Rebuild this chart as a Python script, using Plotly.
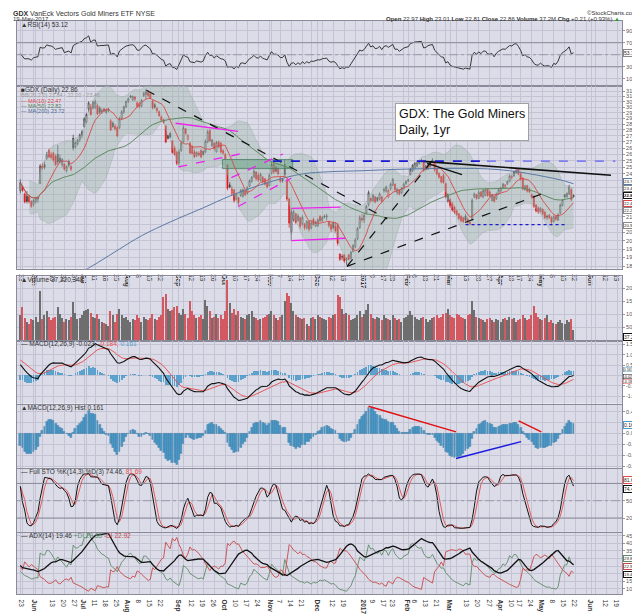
import numpy as np
import pandas as pd
import plotly.graph_objects as go
from plotly.subplots import make_subplots

# trading calendar (May 20 2016 .. Jun 23 2017)
holidays = ["2016-05-30", "2016-07-04", "2016-09-05", "2016-11-24", "2016-12-26",
            "2017-01-02", "2017-01-16", "2017-02-20", "2017-04-14", "2017-05-29"]
days = pd.bdate_range("2016-05-20", "2017-06-23")
days = days[~days.isin(pd.to_datetime(holidays))]

# GDX daily OHLC, idx 0 = 2016-05-20 ... idx 251 = 2017-05-19
opens = [23.30, 23.60, 23.05, 22.90, 22.85, 22.55, 22.35, 22.50, 22.70, 23.80,
         25.10, 25.20, 25.70, 26.30, 26.00, 26.10, 25.85, 26.00, 25.70, 25.20,
         25.25, 24.75, 25.45, 25.05, 27.30, 26.60, 26.85, 27.20, 27.55, 28.30,
         28.70, 29.85, 30.00, 29.95, 30.00, 30.15, 29.95, 29.60, 29.85, 29.55,
         29.70, 28.80, 28.60, 28.30, 28.20, 28.20, 29.00, 29.60, 30.05, 30.55,
         31.05, 30.70, 30.95, 30.40, 30.35, 30.10, 31.10, 31.20, 31.35, 31.25,
         30.60, 30.25, 29.90, 29.60, 29.15, 28.90, 28.35, 27.55, 27.70, 27.10,
         26.50, 26.15, 25.35, 26.30, 27.00, 28.10, 27.20, 26.90, 26.65, 26.20,
         25.90, 26.10, 26.30, 26.25, 26.20, 27.00, 27.95, 26.70, 26.90, 26.20,
         27.00, 26.90, 26.30, 26.00, 25.20, 23.70, 23.10, 23.35, 22.70, 22.80,
         22.95, 22.90, 23.25, 23.10, 23.60, 23.95, 24.30, 24.65, 24.40, 24.05,
         24.25, 24.15, 23.85, 23.65, 24.55, 25.25, 25.00, 24.90, 24.20, 24.10,
         25.20, 24.05, 22.70, 20.55, 21.30, 21.70, 21.25, 21.45, 21.05, 21.05,
         20.80, 21.20, 20.80, 21.35, 20.90, 20.95, 21.55, 21.25, 21.55, 21.50,
         21.20, 21.00, 21.10, 20.90, 21.00, 19.20, 19.05, 19.15, 18.85, 19.15,
         18.95, 19.35, 19.65, 20.10, 20.80, 21.40, 21.30, 21.75, 22.30, 22.75,
         22.60, 22.85, 22.80, 22.70, 22.85, 23.30, 23.25, 22.85, 23.40, 23.70,
         23.75, 23.15, 23.30, 23.15, 23.45, 23.80, 24.00, 24.45, 24.75, 24.95,
         25.10, 25.30, 25.55, 25.40, 25.10, 24.85, 25.05, 25.55, 25.40, 24.90,
         24.55, 24.30, 24.40, 23.80, 22.55, 22.65, 22.40, 22.15, 21.90, 21.70,
         21.55, 21.45, 21.55, 21.35, 21.15, 21.30, 22.85, 23.00, 22.75, 23.20,
         22.85, 22.95, 23.40, 23.20, 22.60, 22.90, 22.70, 23.05, 23.25, 23.45,
         23.50, 23.75, 23.95, 24.25, 24.35, 24.60, 24.85, 24.50, 24.20, 23.35,
         23.65, 23.40, 23.00, 22.90, 22.30, 22.10, 21.85, 22.00, 21.80, 21.55,
         21.60, 21.45, 21.20, 21.55, 21.30, 21.75, 22.25, 23.00, 22.85, 23.05,
         23.35, 22.97]
highs = [24.10, 23.65, 23.15, 23.25, 22.95, 22.60, 22.70, 22.85, 22.90, 25.25,
         25.30, 25.45, 26.20, 26.45, 26.20, 26.20, 26.00, 26.75, 26.00, 25.70,
         25.30, 25.15, 25.60, 25.20, 27.60, 27.05, 27.25, 27.70, 28.00, 29.10,
         29.50, 30.55, 30.30, 30.60, 30.70, 30.35, 30.10, 29.90, 29.95, 29.90,
         29.95, 28.95, 28.75, 28.50, 28.35, 29.15, 29.75, 30.15, 30.60, 30.90,
         31.15, 31.10, 31.05, 30.55, 30.50, 30.75, 31.45, 31.75, 31.60, 31.30,
         30.70, 30.40, 30.05, 29.70, 29.25, 28.95, 28.45, 27.60, 27.85, 27.15,
         26.70, 26.30, 26.40, 27.10, 28.40, 28.15, 27.65, 27.00, 26.70, 26.40,
         26.25, 26.25, 26.45, 26.30, 27.20, 28.00, 28.05, 27.25, 27.00, 27.10,
         27.10, 27.00, 26.40, 26.10, 25.25, 23.90, 23.60, 23.40, 23.15, 22.85,
         23.40, 23.45, 23.35, 23.60, 24.10, 24.35, 24.85, 24.70, 24.60, 24.60,
         24.35, 24.20, 23.95, 24.55, 25.40, 25.45, 25.15, 25.05, 24.30, 24.20,
         25.55, 24.15, 22.80, 21.95, 21.95, 21.75, 21.70, 21.50, 21.60, 21.10,
         21.30, 21.25, 21.25, 21.45, 21.25, 21.40, 21.60, 21.55, 21.65, 21.70,
         21.25, 21.10, 21.20, 21.15, 21.15, 19.25, 19.20, 19.20, 19.00, 19.20,
         19.40, 19.80, 20.15, 20.85, 21.60, 21.70, 21.75, 22.30, 23.30, 22.80,
         23.05, 22.90, 22.85, 23.15, 22.90, 23.50, 23.65, 23.40, 23.85, 24.20,
         23.80, 23.45, 23.40, 23.55, 23.85, 24.00, 24.15, 24.95, 25.25, 25.40,
         25.45, 25.50, 25.65, 25.50, 25.20, 25.30, 25.45, 25.70, 25.45, 25.00,
         24.60, 24.35, 24.55, 23.85, 23.10, 22.75, 22.50, 22.25, 22.00, 21.75,
         21.60, 21.50, 21.70, 21.45, 21.25, 22.75, 23.15, 23.05, 23.30, 23.25,
         23.40, 23.45, 23.45, 23.30, 23.05, 22.95, 23.15, 23.40, 23.55, 23.85,
         23.75, 24.00, 24.45, 24.45, 24.75, 24.85, 24.95, 24.60, 24.25, 23.70,
         23.70, 23.50, 23.10, 22.95, 22.35, 22.20, 22.15, 22.05, 21.90, 21.65,
         21.70, 21.55, 21.60, 21.60, 21.75, 22.40, 22.70, 23.05, 23.15, 23.70,
         23.45, 23.01]
lows = [23.10, 23.20, 22.40, 22.40, 22.40, 22.10, 22.20, 22.40, 22.45, 23.75,
        24.80, 24.85, 25.55, 25.70, 25.60, 25.40, 25.10, 25.20, 25.30, 25.00,
        24.75, 24.60, 25.00, 24.70, 26.30, 26.45, 26.70, 27.00, 27.30, 28.20,
        28.55, 29.60, 29.25, 29.80, 29.85, 29.30, 29.40, 29.40, 29.55, 29.40,
        29.55, 27.90, 28.15, 27.95, 27.40, 28.10, 28.85, 29.40, 29.95, 30.40,
        30.85, 30.55, 30.55, 29.95, 29.90, 30.00, 30.95, 30.80, 30.95, 30.80,
        29.80, 29.85, 29.50, 29.15, 28.75, 28.55, 26.90, 27.20, 27.30, 26.05,
        25.90, 25.15, 25.15, 26.20, 26.95, 27.60, 27.10, 26.00, 26.00, 25.70,
        25.80, 25.85, 25.70, 25.90, 26.10, 26.90, 27.00, 26.60, 26.30, 26.15,
        26.50, 26.05, 25.95, 25.55, 23.30, 23.45, 22.95, 22.45, 22.60, 22.30,
        22.85, 22.80, 22.90, 23.00, 23.55, 23.85, 24.20, 24.00, 23.90, 23.95,
        23.80, 23.65, 23.45, 23.60, 24.45, 24.50, 24.60, 24.40, 23.85, 23.85,
        24.30, 22.55, 20.80, 20.40, 21.20, 21.05, 21.20, 20.75, 20.95, 20.65,
        20.70, 20.55, 20.70, 20.95, 20.85, 20.85, 21.15, 21.20, 21.40, 21.30,
        20.80, 20.55, 20.70, 20.50, 19.70, 18.80, 18.85, 18.70, 18.58, 18.85,
        18.90, 19.30, 19.55, 20.05, 20.75, 21.15, 21.10, 21.65, 22.20, 22.45,
        22.50, 22.40, 22.50, 22.60, 22.45, 23.15, 23.15, 22.75, 23.30, 23.60,
        23.20, 23.00, 22.95, 23.05, 23.35, 23.70, 23.90, 24.40, 24.65, 24.85,
        25.00, 25.20, 25.35, 24.65, 24.75, 24.80, 25.00, 25.35, 24.65, 24.40,
        24.15, 23.80, 23.80, 22.75, 22.45, 22.10, 21.85, 21.70, 21.55, 21.30,
        21.15, 21.10, 21.20, 21.05, 20.95, 21.25, 22.75, 22.65, 22.70, 22.80,
        22.75, 22.90, 22.85, 22.80, 22.55, 22.45, 22.65, 23.00, 23.15, 23.40,
        23.45, 23.70, 23.90, 24.10, 24.30, 24.50, 24.40, 24.00, 23.30, 23.30,
        23.15, 23.10, 22.70, 22.10, 21.80, 21.70, 21.80, 21.60, 21.35, 21.30,
        21.35, 20.95, 21.15, 21.25, 21.25, 21.70, 22.20, 22.75, 22.80, 23.00,
        22.55, 22.81]
closes = [23.85, 23.30, 22.50, 22.55, 22.50, 22.20, 22.60, 22.75, 22.80, 25.10,
          24.95, 25.00, 25.95, 25.80, 25.75, 25.55, 25.20, 25.40, 25.45, 25.60,
          24.85, 25.05, 25.15, 24.85, 26.50, 26.95, 27.15, 27.60, 27.85, 28.95,
          29.35, 30.40, 29.35, 30.45, 30.50, 29.40, 29.55, 29.70, 29.65, 29.75,
          29.80, 28.00, 28.30, 28.10, 27.50, 28.95, 29.60, 30.05, 30.55, 30.80,
          30.95, 31.00, 30.75, 30.10, 30.05, 30.65, 31.30, 31.45, 31.10, 30.85,
          29.95, 30.00, 29.70, 29.25, 28.85, 28.65, 27.00, 27.30, 27.40, 26.15,
          26.00, 25.30, 26.20, 26.90, 28.20, 27.70, 27.55, 26.10, 26.05, 25.80,
          26.15, 25.95, 25.80, 26.00, 27.05, 27.85, 27.10, 27.15, 26.45, 26.95,
          26.60, 26.20, 26.10, 25.65, 23.45, 23.55, 23.40, 22.60, 23.05, 22.45,
          23.30, 23.35, 23.00, 23.50, 24.00, 24.25, 24.70, 24.15, 24.05, 24.45,
          23.90, 23.75, 23.55, 24.40, 25.20, 24.65, 24.70, 24.50, 23.95, 24.00,
          24.45, 22.70, 21.10, 21.80, 21.85, 21.15, 21.55, 20.90, 21.45, 20.80,
          21.20, 20.70, 21.10, 21.00, 21.15, 21.30, 21.25, 21.45, 21.50, 21.55,
          20.95, 20.70, 20.80, 20.60, 19.85, 18.90, 19.05, 18.80, 18.95, 18.90,
          19.30, 19.70, 20.05, 20.75, 21.45, 21.30, 21.60, 22.20, 23.15, 22.60,
          22.95, 22.50, 22.60, 23.05, 22.55, 23.35, 23.55, 23.30, 23.75, 24.10,
          23.35, 23.40, 23.05, 23.45, 23.75, 23.95, 24.05, 24.85, 25.15, 25.30,
          25.35, 25.40, 25.45, 24.75, 24.85, 25.20, 25.40, 25.45, 24.80, 24.50,
          24.25, 23.90, 23.85, 22.85, 23.00, 22.25, 21.95, 21.80, 21.65, 21.40,
          21.25, 21.20, 21.30, 21.15, 21.05, 22.60, 23.05, 22.75, 23.15, 22.90,
          23.30, 23.35, 22.95, 22.90, 23.00, 22.55, 23.05, 23.35, 23.50, 23.75,
          23.70, 23.95, 24.35, 24.30, 24.65, 24.75, 24.50, 24.10, 23.40, 23.60,
          23.25, 23.20, 22.85, 22.20, 21.90, 21.85, 22.05, 21.70, 21.45, 21.50,
          21.45, 21.15, 21.50, 21.35, 21.65, 22.30, 22.65, 22.85, 23.10, 23.55,
          22.65, 22.86]
volume_m = [95, 125, 85, 70, 60, 80, 75, 90, 70, 187,
            80, 95, 110, 90, 75, 85, 90, 128, 100, 85,
            70, 80, 75, 90, 147, 105, 80, 85, 95, 110,
            115, 120, 105, 90, 85, 100, 80, 70, 65, 60,
            55, 110, 95, 70, 100, 120, 95, 85, 90, 75,
            70, 80, 75, 95, 85, 70, 90, 80, 75, 85,
            100, 80, 75, 90, 95, 165, 175, 120, 110, 115,
            125, 130, 105, 95, 120, 100, 85, 148, 110, 95,
            85, 90, 95, 80, 153, 130, 110, 85, 90, 100,
            85, 95, 80, 110, 229, 140, 105, 120, 95, 110,
            90, 85, 80, 95, 100, 110, 90, 85, 75, 80,
            85, 90, 95, 100, 110, 95, 85, 75, 90, 95,
            150, 180, 168, 140, 110, 95, 90, 85, 80, 85,
            60, 55, 85, 90, 80, 95, 90, 85, 80, 75,
            90, 85, 95, 100, 172, 165, 120, 100, 105, 95,
            75, 80, 85, 95, 110, 90, 100, 115, 139, 100,
            85, 80, 90, 85, 75, 95, 85, 80, 75, 95,
            85, 75, 80, 70, 85, 90, 95, 110, 95, 90,
            80, 75, 85, 90, 80, 70, 75, 85, 90, 95,
            85, 90, 100, 105, 120, 95, 90, 85, 100, 95,
            90, 85, 80, 95, 100, 151, 115, 90, 85, 80,
            75, 70, 80, 85, 75, 70, 80, 75, 70, 80,
            85, 75, 90, 80, 85, 70, 75, 80, 95, 85,
            75, 80, 95, 129, 105, 90, 80, 75, 85, 95,
            70, 75, 65, 60, 70, 75, 65, 60, 77, 70,
            80, 37.22]

# 200-day MA (sparse points)
ma200_idx = [26, 35, 45, 55, 68, 83, 95, 113, 128, 140, 155, 170, 185, 200, 212, 222, 230, 238, 245, 251]
ma200_val = [18.05, 18.7, 19.5, 20.3, 21.17, 22.1, 22.9, 23.9, 24.5, 24.66, 24.74, 24.84, 24.9, 24.92,
             24.88, 24.74, 24.54, 24.3, 24.06, 23.78]

rsi_seed = (0.30, 0.28)             # avg gain, avg loss
macd_seed = (24.25, 23.65, 0.80)    # ema12, ema26, signal
adx_seed = (0.80, 0.19, 0.21, 27.0)  # atr, +dm, -dm, adx

# x-axis labels
tick_dates = ["2016-05-23", "2016-06-01", "2016-06-13", "2016-06-20", "2016-06-27", "2016-07-01",
              "2016-07-11", "2016-07-18", "2016-07-25", "2016-08-01", "2016-08-08", "2016-08-15",
              "2016-08-22", "2016-09-01", "2016-09-12", "2016-09-19", "2016-09-26", "2016-10-03",
              "2016-10-10", "2016-10-17", "2016-10-24", "2016-11-01", "2016-11-07", "2016-11-14",
              "2016-11-21", "2016-12-01", "2016-12-12", "2016-12-19", "2017-01-03", "2017-01-09",
              "2017-01-17", "2017-01-23", "2017-02-01", "2017-02-06", "2017-02-13", "2017-02-21",
              "2017-03-01", "2017-03-13", "2017-03-20", "2017-03-27", "2017-04-03", "2017-04-10",
              "2017-04-17", "2017-04-24", "2017-05-01", "2017-05-08", "2017-05-15", "2017-05-22",
              "2017-06-01", "2017-06-12", "2017-06-19"]
tick_text = ["23", "Jun", "13", "20", "27", "Jul", "11", "18", "25", "Aug", "8", "15",
             "22", "Sep", "12", "19", "26", "Oct", "10", "17", "24", "Nov", "7", "14",
             "21", "Dec", "12", "19", "2017", "9", "17", "23", "Feb", "6", "13", "21",
             "Mar", "13", "20", "27", "Apr", "10", "17", "24", "May", "8", "15", "22",
             "Jun", "12", "19"]

# hand-drawn trend lines on the price panel: (x0, y0, x1, y1, color, dash, width)
price_lines = [
    (57.2, 31.6, 166.5, 21.37, "#111111", "dash", 1.2),
    (148.2, 18.5, 187.3, 25.6, "#111111", "dash", 1.2),
    (148.2, 18.5, 238.8, 23.18, "#111111", "dash", 1.2),
    (182.8, 25.45, 268.0, 24.4, "#111111", "solid", 1.6),
    (184.6, 25.3, 200.4, 24.45, "#111111", "solid", 1.4),
    (114.6, 25.47, 211.7, 25.47, "#1a1ad0", "dash", 1.6),
    (211.7, 25.47, 270.0, 25.47, "#8080ee", "dash", 1.6),
    (202.0, 21.0, 247.0, 21.0, "#1a1ad0", "dot", 1.4),
    (70.45, 28.58, 98.8, 27.88, "#ee22ee", "solid", 1.3),
    (71.7, 25.03, 99.5, 26.03, "#ee22ee", "dash", 1.3),
    (95.75, 24.23, 119.1, 26.03, "#ee22ee", "dash", 1.3),
    (98.8, 22.19, 122.85, 24.18, "#ee22ee", "dash", 1.3),
    (122.9, 22.06, 145.2, 22.15, "#ee22ee", "solid", 1.3),
    (122.9, 20.0, 147.5, 20.15, "#ee22ee", "solid", 1.3),
    (122.9, 20.0, 122.9, 22.06, "#888888", "solid", 1.0),
]
zone_box = (91.7, 123.6, 24.9, 25.6)
hist_lines = [
    (158.0, 0.50, 197.7, 0.03, "#e01010"),
    (226.1, 0.23, 236.4, 0.03, "#e01010"),
    (197.7, -0.46, 227.2, -0.15, "#1a1ae0"),
]

# ---------------- indicators ----------------
c = pd.Series(closes)
h = pd.Series(highs)
l = pd.Series(lows)
n = len(c)
x = np.arange(n)

ma10 = c.rolling(10, min_periods=1).mean()
ma50 = c.rolling(50, min_periods=1).mean()
bb_mid = c.rolling(20, min_periods=5).mean()
bb_sd = c.rolling(20, min_periods=5).std(ddof=0)
bb_up = bb_mid + 2 * bb_sd
bb_lo = bb_mid - 2 * bb_sd

delta = c.diff().fillna(0)
ag, al = rsi_seed
rsi = []
for d in delta:
    ag += (max(d, 0) - ag) / 14
    al += (max(-d, 0) - al) / 14
    rsi.append(100 - 100 / (1 + ag / al))

e12, e26, sig = macd_seed
macd, signal = [], []
for v in c:
    e12 += (v - e12) * 2 / 13
    e26 += (v - e26) * 2 / 27
    m = e12 - e26
    sig += (m - sig) * 2 / 10
    macd.append(m)
    signal.append(sig)
macd = np.array(macd)
signal = np.array(signal)
hist = macd - signal

ll = l.rolling(14, min_periods=1).min()
hh = h.rolling(14, min_periods=1).max()
fast_k = 100 * (c - ll) / (hh - ll)
full_k = fast_k.rolling(3, min_periods=1).mean()
full_d = full_k.rolling(3, min_periods=1).mean()

atr, pdm_s, mdm_s, adx_v = adx_seed
pdi, mdi, adx = [], [], []
for i in range(n):
    if i == 0:
        tr, pdm, mdm = h[0] - l[0], 0.0, 0.0
    else:
        tr = max(h[i] - l[i], abs(h[i] - c[i - 1]), abs(l[i] - c[i - 1]))
        up, dn = h[i] - h[i - 1], l[i - 1] - l[i]
        pdm = up if (up > dn and up > 0) else 0.0
        mdm = dn if (dn > up and dn > 0) else 0.0
    atr += (tr - atr) / 14
    pdm_s += (pdm - pdm_s) / 14
    mdm_s += (mdm - mdm_s) / 14
    p_, m_ = 100 * pdm_s / atr, 100 * mdm_s / atr
    dx = 100 * abs(p_ - m_) / (p_ + m_)
    adx_v += (dx - adx_v) / 14
    pdi.append(p_)
    mdi.append(m_)
    adx.append(adx_v)

up_day = np.r_[True, c.values[1:] >= c.values[:-1]]

# ---------------- figure ----------------
W, H = 640, 614
L, R, T, B = 8, 24, 13, 11
PW, PH = W - L - R, H - T - B
panels_px = [(13, 80), (80, 268), (276, 342), (343, 407), (408, 473), (474, 539), (540, 603)]

fig = make_subplots(rows=7, cols=1, shared_xaxes=True, vertical_spacing=0.0)

BG = "#dcdce8"
GRID = "#c3c3d3"
LINE = "#8a8a9a"
FONT = "Liberation Sans, Arial, sans-serif"

# RSI
fig.add_trace(go.Scatter(x=x, y=rsi, mode="lines", line=dict(color="#222", width=0.9)), row=1, col=1)

# Bollinger band
fig.add_trace(go.Scatter(x=x, y=bb_lo, mode="lines", line=dict(color="rgba(150,165,160,0.6)", width=0.6)),
              row=2, col=1)
fig.add_trace(go.Scatter(x=x, y=bb_up, mode="lines", fill="tonexty", fillcolor="rgba(160,180,172,0.42)",
                         line=dict(color="rgba(150,165,160,0.6)", width=0.6)), row=2, col=1)
# zone box
x0, x1, y0, y1 = zone_box
fig.add_trace(go.Scatter(x=[x0, x1, x1, x0, x0], y=[y0, y0, y1, y1, y0], mode="lines", fill="toself",
                         fillcolor="rgba(95,160,125,0.5)", line=dict(color="rgba(60,120,90,0.7)", width=1)),
              row=2, col=1)
# moving averages
fig.add_trace(go.Scatter(x=ma200_idx, y=ma200_val, mode="lines", line=dict(color="#5a7aa5", width=1),
                         line_shape="spline"), row=2, col=1)
fig.add_trace(go.Scatter(x=x, y=ma50, mode="lines", line=dict(color="#5f8a62", width=1)), row=2, col=1)
fig.add_trace(go.Scatter(x=x, y=ma10, mode="lines", line=dict(color="#d84848", width=0.9)), row=2, col=1)

# candles: black = up vs previous close, red = down
for mask, col in ((up_day, "#3a3a3a"), (~up_day, "#e01818")):
    fig.add_trace(go.Candlestick(
        x=x[mask], open=np.array(opens)[mask], high=h.values[mask], low=l.values[mask],
        close=c.values[mask], whiskerwidth=0,
        increasing=dict(line=dict(color=col, width=0.7), fillcolor="#f4f4f4"),
        decreasing=dict(line=dict(color=col, width=0.7), fillcolor=col)), row=2, col=1)

for x0, y0, x1, y1, colr, dash, wd in price_lines:
    fig.add_trace(go.Scatter(x=[x0, x1], y=[y0, y1], mode="lines",
                             line=dict(color=colr, dash=dash, width=wd)), row=2, col=1)

# volume
fig.add_trace(go.Bar(x=x, y=volume_m, width=0.62,
                     marker=dict(color=np.where(up_day, "#6e6e6e", "#d25862"), line=dict(width=0))),
              row=3, col=1)

# MACD
fig.add_trace(go.Bar(x=x, y=hist, width=0.8, marker=dict(color="rgba(70,150,200,0.85)", line=dict(width=0))),
              row=4, col=1)
fig.add_trace(go.Scatter(x=x, y=signal, mode="lines", line=dict(color="#e84a4a", width=0.9)), row=4, col=1)
fig.add_trace(go.Scatter(x=x, y=macd, mode="lines", line=dict(color="#111", width=1.1)), row=4, col=1)

# MACD histogram
fig.add_trace(go.Bar(x=x, y=hist, width=0.85,
                     marker=dict(color="#4d9ccb", line=dict(color="#2d6f98", width=0.4))), row=5, col=1)
for x0, y0, x1, y1, colr in hist_lines:
    fig.add_trace(go.Scatter(x=[x0, x1], y=[y0, y1], mode="lines", line=dict(color=colr, width=1.4)),
                  row=5, col=1)

# Full STO
fig.add_trace(go.Scatter(x=x, y=full_d, mode="lines", line=dict(color="#e84a4a", width=0.9)), row=6, col=1)
fig.add_trace(go.Scatter(x=x, y=full_k, mode="lines", line=dict(color="#111", width=1)), row=6, col=1)

# ADX
fig.add_trace(go.Scatter(x=x, y=pdi, mode="lines", line=dict(color="#5f8a6a", width=0.9)), row=7, col=1)
fig.add_trace(go.Scatter(x=x, y=mdi, mode="lines", line=dict(color="#c84848", width=0.9)), row=7, col=1)
fig.add_trace(go.Scatter(x=x, y=adx, mode="lines", line=dict(color="#111", width=1.3)), row=7, col=1)

# reference lines
for row, lvl, dash, colr in ((1, 70, "solid", "#8a8a9a"), (1, 30, "solid", "#8a8a9a"), (1, 50, "dashdot", "#9a9aaa"),
                             (6, 80, "solid", "#8a8a9a"), (6, 20, "solid", "#8a8a9a"), (6, 50, "dashdot", "#9a9aaa")):
    fig.add_hline(y=lvl, row=row, col=1, line=dict(color=colr, width=1, dash=dash))

# ---------------- axes ----------------
pos = pd.Series(np.arange(len(days)), index=days)
iso = days.isocalendar()
week_first = days.to_series().groupby([iso.year.values, iso.week.values]).min().values
label_pos = [int(pos[pd.Timestamp(d)]) for d in tick_dates]
grid_vals = sorted(set(int(pos[d]) for d in week_first) | set(label_pos))
lab = dict(zip(label_pos, tick_text))
grid_text = []
for v in grid_vals:
    t = lab.get(v, "")
    grid_text.append("<b>%s</b>" % t if t[:1].isalpha() or t == "2017" else t)

for i, (ptop, pbot) in enumerate(panels_px, start=1):
    sfx = "" if i == 1 else str(i)
    fig.layout["yaxis" + sfx].domain = [(H - B - pbot) / PH, (H - B - ptop) / PH]
    fig.layout["xaxis" + sfx].update(
        range=[-1.5, 273], tickvals=grid_vals, ticktext=grid_text, showgrid=True, gridcolor=GRID,
        gridwidth=1, zeroline=False, showline=True, mirror=True, linecolor=LINE, linewidth=1, ticks="",
        showticklabels=i in (2, 7), tickfont=dict(size=6.5, color="#333", family=FONT),
        rangeslider=dict(visible=False))
    fig.layout["yaxis" + sfx].update(
        side="right", showgrid=True, gridcolor=GRID, zeroline=False, showline=True, mirror=True,
        linecolor=LINE, linewidth=1, ticks="outside", ticklen=2, tickcolor="#999",
        tickfont=dict(size=5.5, color="#555", family=FONT))

# price labels hidden where the value boxes sit
price_ticks = [round(18.5 + 0.5 * k, 1) for k in range(27)]
covered = {21.0, 22.0, 22.5, 23.0, 23.5, 24.0}
fig.update_yaxes(range=[-2, 106], tickvals=[10, 30, 50, 70, 90], ticktext=["10", "30", "", "70", "90"],
                 row=1, col=1)
fig.update_yaxes(type="log", range=[np.log10(18.37), np.log10(32.0)], tickvals=price_ticks,
                 ticktext=["" if v in covered else "%.1f" % v for v in price_ticks], row=2, col=1)
fig.update_yaxes(range=[0, 245], tickvals=[50, 100, 150, 200], ticktext=["50M", "100M", "150M", "200M"],
                 row=3, col=1)
fig.update_yaxes(range=[-1.36, 1.64], tickvals=[-1.0, -0.5, 0.0, 0.5, 1.0, 1.5],
                 ticktext=["-1.0", "-0.5", "", "0.5", "1.0", "1.5"], tickfont=dict(size=5), row=4, col=1)
fig.update_yaxes(range=[-0.63, 0.53], tickvals=[-0.6, -0.4, -0.2, 0.0, 0.2, 0.4],
                 ticktext=["-0.6", "-0.4", "-0.2", "0.0", "", "0.4"], row=5, col=1)
fig.update_yaxes(range=[-4, 105.5], tickvals=[20, 50, 80], ticktext=["20", "50", ""], row=6, col=1)
fig.update_yaxes(range=[6.6, 47], tickvals=[10, 15, 20, 25, 30, 35, 40, 45],
                 ticktext=["10", "15", "", "", "", "35", "40", "45"], row=7, col=1)


# ---------------- text ----------------
def px(xp, yp):
    return (xp - L) / PW, (H - B - yp) / PH


ann = []


def text(xp, yp, s, size=6.5, color="#333", anchor="left"):
    ax, ay = px(xp, yp)
    ann.append(dict(x=ax, y=ay, xref="paper", yref="paper", text=s, showarrow=False, xanchor=anchor,
                    yanchor="middle", font=dict(size=size, color=color, family=FONT)))


def box(yref, yv, s, border="#888", bold=False, shift=0, size=5, bw=1):
    ann.append(dict(x=(617 - L) / PW, y=yv, xref="paper", yref=yref, text="<b>%s</b>" % s if bold else s,
                    showarrow=False, xanchor="left", yanchor="middle", bgcolor="white", bordercolor=border,
                    borderwidth=bw, borderpad=0, yshift=shift, font=dict(size=size, color="#222", family=FONT)))


text(2, 5, "<b>GDX</b> VanEck Vectors Gold Miners ETF NYSE", size=7)
text(2, 11, "19-May-2017", size=6)
text(633, 5, "©StockCharts.com", size=6, anchor="right")
text(616, 11, "<b>Open</b> 22.97 <b>High</b> 23.01 <b>Low</b> 22.81 <b>Close</b> 22.86 "
     "<b>Volume</b> 37.2M <b>Chg</b> +0.21 (+0.93%) <span style='color:#2a9a2a'>▲</span>", size=6, anchor="right")
text(10, 17, "▲RSI(14) 53.12")
text(10, 84, "■GDX (Daily) 22.86")
text(10, 89.5, "BB(20,2.0) 22.84 - 22.20 - 23.46", size=5.5, color="#999")
text(10, 95, "— MA(10) 22.47", size=5.5, color="#d84848")
text(10, 100.7, "— MA(50) 22.82", size=5.5, color="#4f7a52")
text(10, 106, "— MA(200) 23.72", size=5.5, color="#4a6a95")
text(10, 279.5, "▲Volume 37,220,348")
text(10, 346, "— MACD(12,26,9) -0.023, <span style='color:#e84a4a'>-0.184,</span> "
     "<span style='color:#4d9ccb'>0.161</span>")
text(10, 411, "▲MACD(12,26,9) Hist 0.161")
text(10, 477, "— Full STO %K(14,3) %D(3) 74.46, <span style='color:#e84a4a'>81.69</span>")
text(10, 543, "— ADX(14) 19.46 <span style='color:#5f8a6a'>+DI 29.85</span> "
     "<span style='color:#c84848'>-DI 22.92</span>")

bx, by = px(388, 117)
ann.append(dict(x=bx, y=by, xref="paper", yref="paper", text="GDX: The Gold Miners<br>Daily, 1yr",
                showarrow=False, xanchor="left", yanchor="middle", align="left", bgcolor="white",
                bordercolor="#a0a0a0", borderwidth=1, borderpad=3,
                font=dict(size=12.5, color="#111", family=FONT)))

# value boxes on the right axis (stacked ones nudged apart so they stay readable)
box("y", 53.12, "53.12")
for v, bc, bold, sh in ((23.72, "#5a7aa5", False, 3.5), (23.46, "#888", False, -0.4),
                        (22.86, "#111", True, 0.8), (22.47, "#d84848", False, -1.0),
                        (22.20, "#888", False, -4.5), (20.94, "#888", False, 0)):
    box("y2", np.log10(v), "%.2f" % v, bc, bold, sh, size=4.3)
box("y3", 13, "37.2M", "#111")
box("y4", 0.161, "0.161", "#4d9ccb", shift=2.8, size=3.8, bw=0.5)
box("y4", -0.023, "-0.023", "#111", shift=-0.3, size=3.8, bw=0.5)
box("y4", -0.184, "-0.184", "#e84a4a", shift=-2.6, size=3.8, bw=0.5)
box("y5", 0.161, "0.161", "#4d9ccb")
box("y6", 81.69, "81.69", "#e84a4a", shift=2.5)
box("y6", 74.46, "74.46", "#111", shift=-2.5)
box("y7", 29.85, "29.85", "#5f8a6a", size=4.3)
box("y7", 22.92, "22.92", "#c84848", shift=3, size=4.3)
box("y7", 19.46, "19.46", "#111", shift=0, size=4.3)

fig.update_layout(
    width=W, height=H, margin=dict(l=L, r=R, t=T, b=B), paper_bgcolor="white", plot_bgcolor=BG,
    showlegend=False, bargap=0, annotations=ann, font=dict(family=FONT, size=6.5, color="#333"),
    hovermode=False)

fig.write_html("out.html")
